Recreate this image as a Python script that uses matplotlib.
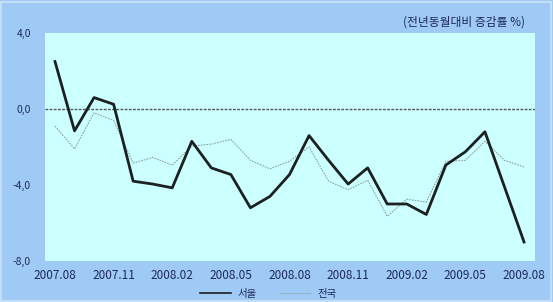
import matplotlib
matplotlib.use('Agg')
import matplotlib.pyplot as plt
from matplotlib.lines import Line2D

plt.rcParams['font.family'] = ['Noto Sans CJK KR', 'DejaVu Sans']

months = ['2007.08', '2007.09', '2007.10', '2007.11', '2007.12', '2008.01',
          '2008.02', '2008.03', '2008.04', '2008.05', '2008.06', '2008.07',
          '2008.08', '2008.09', '2008.10', '2008.11', '2008.12', '2009.01',
          '2009.02', '2009.03', '2009.04', '2009.05', '2009.06', '2009.07',
          '2009.08']
seoul = [2.5, -1.15, 0.6, 0.25, -3.8, -3.95, -4.15, -1.7, -3.1, -3.45, -5.2,
         -4.6, -3.45, -1.4, -2.7, -3.95, -3.1, -5.0, -5.0, -5.55, -2.95,
         -2.25, -1.2, -4.1, -7.0]
korea = [-0.9, -2.1, -0.2, -0.6, -2.85, -2.55, -2.95, -1.95, -1.85, -1.6,
         -2.7, -3.15, -2.75, -2.0, -3.8, -4.25, -3.75, -5.65, -4.75, -4.9,
         -2.75, -2.7, -1.7, -2.7, -3.05]
yticks = [4.0, 0.0, -4.0, -8.0]
ylabels = ['4,0', '0,0', '-4,0', '-8,0']
names = ['서울', '전국']
unit = '(전년동월대비 증감률 %)'

txt = '#1e2a55'
fig = plt.figure(figsize=(5.53, 3.02), dpi=100, facecolor='#9fcaf6')
ax = fig.add_axes([0.0814, 0.1358, 0.886, 0.7549])
ax.set_facecolor('#ccffff')

x = list(range(len(months)))
ax.axhline(0, color='#555555', lw=1.0, ls=(0, (2, 1)))
ax.plot(x, korea, color='#8fa3a3', lw=0.8, ls=(0, (1.5, 1)))
ax.plot(x, seoul, color='#1c2020', lw=2.0)

ax.set_xlim(-0.51, 24.56)
ax.set_ylim(-8, 4)
ax.set_yticks(yticks)
ax.set_yticklabels(ylabels)
ax.set_xticks(x[::3])
ax.set_xticklabels(months[::3])
ax.tick_params(axis='y', length=0, pad=10, labelsize=7.5, labelcolor=txt)
ax.tick_params(axis='x', length=0, pad=6, labelsize=8.5, labelcolor=txt)
for s in ax.spines.values():
    s.set_visible(False)

fig.text(0.949, 0.927, unit, ha='right', va='center', fontsize=8.5, color=txt)

handles = [Line2D([], [], color='#1c2020', lw=1.2),
           Line2D([], [], color='#8fa3a3', lw=0.8, ls=(0, (1.5, 1)))]
fig.legend(handles, names, loc='center', bbox_to_anchor=(0.485, 0.028),
           ncol=2, frameon=False, fontsize=7.5, handlelength=3.0,
           columnspacing=2.2, handletextpad=0.6, labelcolor=txt)

# thin lighter frame around the figure
fig.patches.append(plt.Rectangle((0.002, 0.004), 0.994, 0.99,
                                 transform=fig.transFigure, fill=False,
                                 ec='#c4def8', lw=1.5))

fig.savefig('out.png', dpi=100, facecolor=fig.get_facecolor())
